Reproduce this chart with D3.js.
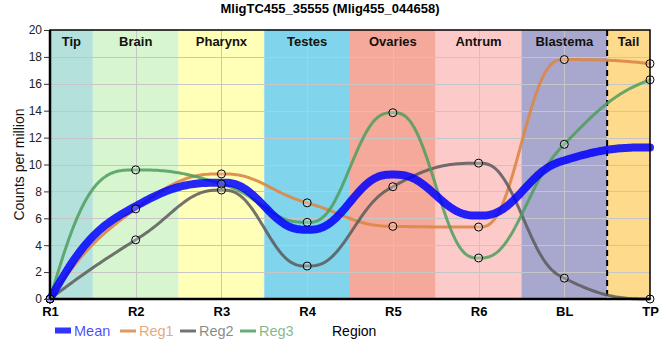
<!DOCTYPE html>
<html>
<head>
<meta charset="utf-8">
<script src="https://cdn.jsdelivr.net/npm/d3@7"></script>
<style>
  html, body { margin: 0; padding: 0; background: #fff; }
  svg { display: block; }
  text { font-family: "Liberation Sans", Arial, sans-serif; }
</style>
</head>
<body>
<svg id="chart" width="660" height="360"></svg>
<script>
// ---- data ----
const categories = ["R1", "R2", "R3", "R4", "R5", "R6", "BL", "TP"];
const regions = ["Tip", "Brain", "Pharynx", "Testes", "Ovaries", "Antrum", "Blastema", "Tail"];
const regionColors = ["#b4e1dc", "#d7f5cf", "#ffffb8", "#80d4ec", "#f5a99b", "#fdcaca", "#a8a8ce", "#fdda8c"];
const meanValues = [0, 6.9, 8.65, 5.15, 9.25, 6.2, 10.3, 11.27];
const reg1Values = [0, 6.7, 9.3, 7.15, 5.4, 5.35, 17.8, 17.5];
const reg2Values = [0, 4.4, 8.1, 2.45, 8.35, 10.1, 1.55, 0];
const reg3Values = [0, 9.6, 8.55, 5.7, 13.85, 3.05, 11.5, 16.3];
const yTicks = [0, 2, 4, 6, 8, 10, 12, 14, 16, 18, 20];
const title = "MligTC455_35555 (Mlig455_044658)";

const series = [
  { name: "Reg1", values: reg1Values, color: "#dd8646", width: 3, opacity: 0.9, markers: true },
  { name: "Reg2", values: reg2Values, color: "#5a5a5a", width: 3, opacity: 0.85, markers: true },
  { name: "Reg3", values: reg3Values, color: "#4e9e5e", width: 3, opacity: 0.85, markers: true },
  { name: "Mean", values: meanValues, color: "#0000ff", width: 8, opacity: 0.85, markers: false }
];

// ---- layout ----
const svg = d3.select("#chart");
const x0 = 50, x1 = 650, yTop = 30, yBot = 299;
const x = d3.scalePoint().domain(categories).range([x0, x1]).padding(0);
const y = d3.scaleLinear().domain([0, 20]).range([yBot, yTop]);

// ---- custom smooth monotone curve (quintic Hermite) ----
function QuinticMono(context) { this._context = context; }
QuinticMono.prototype = {
  areaStart() { this._line = 0; },
  areaEnd() { this._line = NaN; },
  lineStart() { this._xs = []; this._ys = []; },
  point(px, py) { this._xs.push(+px); this._ys.push(+py); },
  lineEnd() {
    const xs = this._xs, ys = this._ys, n = xs.length, c = this._context;
    if (!n) return;
    c.moveTo(xs[0], ys[0]);
    if (n < 2) return;
    const s = [], m = new Array(n).fill(0);
    for (let i = 0; i < n - 1; i++) s.push((ys[i + 1] - ys[i]) / (xs[i + 1] - xs[i]));
    for (let i = 1; i < n - 1; i++) {
      const h0 = xs[i] - xs[i - 1], h1 = xs[i + 1] - xs[i];
      const p = (s[i - 1] * h1 + s[i] * h0) / (h0 + h1);
      m[i] = (Math.sign(s[i - 1]) + Math.sign(s[i])) *
        Math.min(Math.abs(s[i - 1]), Math.abs(s[i]), 0.5 * Math.abs(p)) || 0;
    }
    const endT = (sv, mv) => {
      let t = 2.25 * sv - 1.25 * mv;
      if (sv >= 0) t = Math.max(0, Math.min(3 * sv, t));
      else t = Math.min(0, Math.max(3 * sv, t));
      return t;
    };
    m[0] = n > 2 ? endT(s[0], m[1]) : s[0];
    m[n - 1] = n > 2 ? endT(s[n - 2], m[n - 2]) : s[n - 2];
    const steps = 40;
    for (let i = 0; i < n - 1; i++) {
      const h = xs[i + 1] - xs[i];
      for (let k = 1; k <= steps; k++) {
        const t = k / steps, t3 = t * t * t, t4 = t3 * t, t5 = t4 * t;
        const H1 = 10 * t3 - 15 * t4 + 6 * t5;
        const G0 = t - 6 * t3 + 8 * t4 - 3 * t5;
        const G1 = -4 * t3 + 7 * t4 - 3 * t5;
        const yy = ys[i] * (1 - H1) + ys[i + 1] * H1 + h * (m[i] * G0 + m[i + 1] * G1);
        c.lineTo(xs[i] + t * h, yy);
      }
    }
  }
};
const quinticMono = ctx => new QuinticMono(ctx);

// ---- region bands ----
const step = x.step();
const bandEdges = categories.map((c, i) => {
  const cx = x(c);
  return { left: i === 0 ? x0 : cx - step / 2, right: i === categories.length - 1 ? x1 : cx + step / 2 };
});
const bands = svg.append("g");
bands.selectAll("rect").data(regions).join("rect")
  .attr("x", (d, i) => bandEdges[i].left)
  .attr("y", yTop)
  .attr("width", (d, i) => bandEdges[i].right - bandEdges[i].left)
  .attr("height", yBot - yTop)
  .attr("fill", (d, i) => regionColors[i]);

// ---- grid ----
const grid = svg.append("g").attr("stroke", "#c6c6c6").attr("stroke-width", 1);
grid.selectAll("line.h").data(yTicks.slice(1, -1)).join("line")
  .attr("x1", x0).attr("x2", x1)
  .attr("y1", d => Math.round(y(d)) + 0.5).attr("y2", d => Math.round(y(d)) + 0.5);
grid.selectAll("line.v").data(categories.slice(1, -1)).join("line")
  .attr("y1", yTop).attr("y2", yBot)
  .attr("x1", d => Math.round(x(d)) + 0.5).attr("x2", d => Math.round(x(d)) + 0.5);

// region labels
svg.append("g").selectAll("text").data(regions).join("text")
  .attr("x", (d, i) => (bandEdges[i].left + bandEdges[i].right) / 2)
  .attr("y", 46)
  .attr("text-anchor", "middle")
  .attr("font-size", 13).attr("font-weight", "bold").attr("fill", "#111")
  .text(d => d);

// dashed separator between Blastema and Tail
svg.append("line")
  .attr("x1", bandEdges[7].left).attr("x2", bandEdges[7].left)
  .attr("y1", yTop).attr("y2", yBot)
  .attr("stroke", "#000").attr("stroke-width", 2).attr("stroke-dasharray", "6,4");

// ---- lines ----
const line = d3.line()
  .x((d, i) => x(categories[i]))
  .y(d => y(d))
  .curve(quinticMono);

const linesG = svg.append("g");
series.forEach(sr => {
  linesG.append("path")
    .attr("d", line(sr.values))
    .attr("fill", "none")
    .attr("stroke", sr.color)
    .attr("stroke-width", sr.width)
    .attr("stroke-opacity", sr.opacity)
    .attr("stroke-linejoin", "round")
    .attr("stroke-linecap", "round");
});
series.filter(s => s.markers).forEach(sr => {
  linesG.append("g").selectAll("circle").data(sr.values).join("circle")
    .attr("cx", (d, i) => x(categories[i]))
    .attr("cy", d => y(d))
    .attr("r", 4)
    .attr("fill", "#fff").attr("fill-opacity", 0.25)
    .attr("stroke", "#000").attr("stroke-width", 1);
});

// ---- frame & axes ----
svg.append("rect")
  .attr("x", x0).attr("y", yTop).attr("width", x1 - x0).attr("height", yBot - yTop)
  .attr("fill", "none").attr("stroke", "#000").attr("stroke-width", 1.5);
svg.append("line").attr("x1", x0).attr("x2", x1).attr("y1", yBot).attr("y2", yBot)
  .attr("stroke", "#000").attr("stroke-width", 2.5);
svg.append("line").attr("x1", x0).attr("x2", x0).attr("y1", yTop).attr("y2", yBot)
  .attr("stroke", "#000").attr("stroke-width", 2.5);

const yAxis = svg.append("g").attr("transform", `translate(${x0 - 1},0)`)
  .call(d3.axisLeft(y).tickValues(yTicks).tickSize(5).tickPadding(2).tickFormat(d3.format("d")));
yAxis.select(".domain").remove();
yAxis.selectAll("text").attr("font-size", 12).attr("fill", "#222")
  .attr("font-family", "'Liberation Sans', Arial, sans-serif");
yAxis.selectAll("line").attr("stroke", "#333");

const xAxis = svg.append("g").attr("transform", `translate(0,${yBot})`)
  .call(d3.axisBottom(x).tickSize(0).tickPadding(8));
xAxis.select(".domain").remove();
xAxis.selectAll("text").attr("font-size", 13).attr("font-weight", "bold").attr("fill", "#000")
  .attr("font-family", "'Liberation Sans', Arial, sans-serif");

// ---- titles ----
svg.append("text").attr("x", 330).attr("y", 13).attr("text-anchor", "middle")
  .attr("font-size", 13).attr("font-weight", "bold").text(title);
svg.append("text").attr("transform", `translate(24,${(yTop + yBot) / 2}) rotate(-90)`)
  .attr("text-anchor", "middle").attr("font-size", 14).attr("fill", "#111")
  .text("Counts per million");

// ---- legend ----
const legend = svg.append("g").attr("font-family", "Roboto, 'Liberation Sans', sans-serif");
const legendItems = [
  { s: series[3], x: 55 },
  { s: series[0], x: 120 },
  { s: series[1], x: 180 },
  { s: series[2], x: 240 }
];
legendItems.forEach(it => {
  if (it.s.name === "Mean") {
    legend.append("rect").attr("x", it.x).attr("y", 327.5).attr("width", 16).attr("height", 6)
      .attr("fill", it.s.color).attr("fill-opacity", 0.8);
  } else {
    legend.append("line").attr("x1", it.x).attr("x2", it.x + 16).attr("y1", 331).attr("y2", 331)
      .attr("stroke", it.s.color).attr("stroke-width", 3).attr("stroke-opacity", 0.85);
  }
  legend.append("text").attr("x", it.x + 19).attr("y", 336)
    .attr("font-size", 14.5).attr("font-weight", 500)
    .attr("fill", it.s.color).attr("fill-opacity", 0.72)
    .text(it.s.name);
});
legend.append("text").attr("x", 332).attr("y", 336).attr("font-size", 14).attr("fill", "#000")
  .text("Region");
</script>
</body>
</html>
